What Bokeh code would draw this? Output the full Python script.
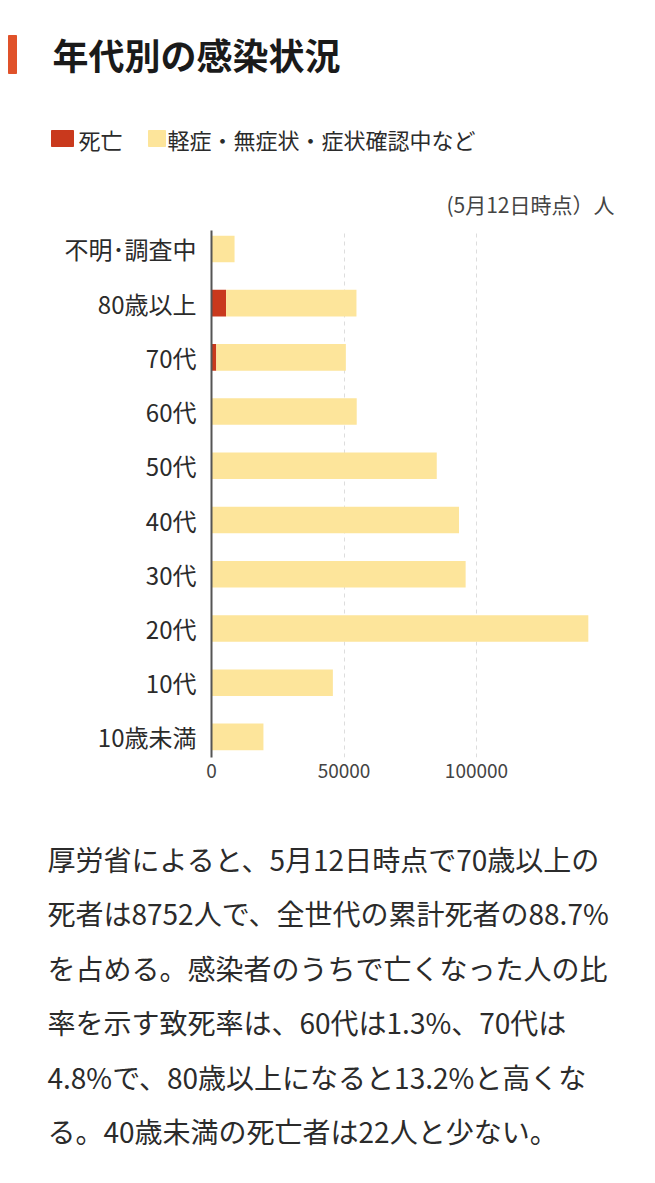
from bokeh.plotting import figure
from bokeh.models import Range1d, FixedTicker, NumeralTickFormatter, ColumnDataSource
from bokeh.layouts import column
from bokeh.core.properties import value
from bokeh.embed import file_html
from bokeh.resources import INLINE

# ---- data ----
categories = ["10歳未満", "10代", "20代", "30代", "40代", "50代", "60代", "70代", "80歳以上", "不明･調査中"]
deaths = [0, 0, 0, 0, 0, 0, 0, 1800, 5500, 0]
mild = [19600, 45800, 142200, 95900, 93400, 85000, 54800, 48900, 49200, 8700]
x_ticks = [0, 50000, 100000]
series_names = ["死亡", "軽症・無症状・症状確認中など"]
title_text = "年代別の感染状況"
note_text = "(5月12日時点）人"
paragraph = [
    "厚労省によると、5月12日時点で70歳以上の",
    "死者は8752人で、全世代の累計死者の88.7%",
    "を占める。感染者のうちで亡くなった人の比",
    "率を示す致死率は、60代は1.3%、70代は",
    "4.8%で、80歳以上になると13.2%と高くな",
    "る。40歳未満の死亡者は22人と少ない。",
]

FONT = "Noto Sans CJK JP"
RED = "#C9391D"
YELLOW = "#FDE59B"
TXT = "#2b2b2b"

W = 639
TOP_H = 222
CHART_BOTTOM = 800
TOTAL_H = 1167
# chart frame in page px
FL, FR, FT, FB = 211, 630, 230, 757
PX_PER_50K = 132.5
x_end = (FR - FL) / PX_PER_50K * 50000
y_lo, y_hi = -0.38, 9.34


def blank(h, y0):
    f = figure(width=W, height=h, x_range=Range1d(0, W), y_range=Range1d(y0 + h, y0),
               output_backend="svg", toolbar_location=None, min_border=0,
               x_axis_location=None, y_axis_location=None, frame_align=False)
    f.grid.visible = False
    f.outline_line_color = None
    f.background_fill_color = "white"
    f.border_fill_color = "white"
    return f


# ---- top: title, legend, note ----
top = blank(TOP_H, 0)
top.quad(left=[8], right=[16], top=[35], bottom=[73], color="#E0522A")
top.text(x=[52], y=[53], text=[title_text], text_font=value(FONT), text_font_size=value("36px"),
         text_font_style="bold", text_color="#1a1a1a", text_baseline="middle")
top.quad(left=[51, 148], right=[73, 165], top=[130, 130], bottom=[146, 146], color=[RED, YELLOW])
top.text(x=[78, 167], y=[138, 138], text=series_names, text_font=value(FONT),
         text_font_size=value("22px"), text_color=TXT, text_baseline="middle")
top.text(x=[614], y=[203], text=[note_text], text_font=value(FONT), text_font_size=value("21px"),
         text_color="#444444", text_baseline="middle", text_align="right")

# ---- chart ----
src = ColumnDataSource(dict(y=list(range(len(categories))), deaths=deaths, mild=mild))
p = figure(width=W, height=CHART_BOTTOM - TOP_H, x_range=Range1d(0, x_end), y_range=Range1d(y_lo, y_hi),
           output_backend="svg", toolbar_location=None, frame_align=False,
           min_border_left=FL, min_border_right=W - FR,
           min_border_top=FT - TOP_H, min_border_bottom=CHART_BOTTOM - FB)
p.outline_line_color = None
p.background_fill_color = "white"
p.border_fill_color = "white"

p.hbar_stack(["deaths", "mild"], y="y", height=0.49, color=[RED, YELLOW], source=src, line_color=None)

p.yaxis.ticker = FixedTicker(ticks=list(range(len(categories))))
p.yaxis.major_label_overrides = {i: c for i, c in enumerate(categories)}
p.yaxis.major_tick_line_color = None
p.yaxis.minor_tick_line_color = None
p.yaxis.axis_line_color = "#555555"
p.yaxis.axis_line_width = 2
p.yaxis.major_label_standoff = 9
p.yaxis.major_label_text_font = FONT
p.yaxis.major_label_text_font_size = "24px"
p.yaxis.major_label_text_color = TXT

p.xaxis.ticker = FixedTicker(ticks=x_ticks)
p.xaxis.formatter = NumeralTickFormatter(format="0")
p.xaxis.axis_line_color = None
p.xaxis.major_tick_line_color = None
p.xaxis.minor_tick_line_color = None
p.xaxis.major_label_standoff = 0
p.xaxis.major_label_text_font = FONT
p.xaxis.major_label_text_font_size = "19px"
p.xaxis.major_label_text_color = "#444444"

p.ygrid.grid_line_color = None
p.xgrid.ticker = FixedTicker(ticks=x_ticks[1:])
p.xgrid.grid_line_color = "#dddddd"
p.xgrid.grid_line_dash = "4 4"

# ---- bottom: paragraph ----
bot = blank(TOTAL_H - CHART_BOTTOM, CHART_BOTTOM)
line_y = [858, 912, 967, 1021, 1076, 1130]
bot.text(x=[47] * len(paragraph), y=line_y, text=paragraph, text_font=value(FONT),
         text_font_size=value("28px"), text_color=TXT, text_baseline="middle")

layout = column(top, p, bot, spacing=0)
open("out.html", "w").write(file_html(layout, INLINE))
